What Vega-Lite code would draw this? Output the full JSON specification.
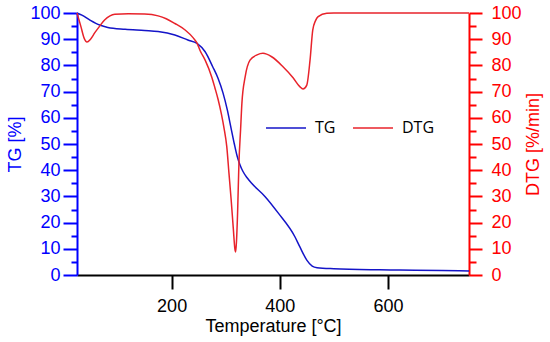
{
  "$schema": "https://vega.github.io/schema/vega-lite/v6.json",
  "width": 392,
  "height": 262,
  "autosize": "none",
  "padding": {"left": 77, "top": 13, "right": 81, "bottom": 67},
  "config": {"view": {"stroke": null}, "font": "Liberation Sans"},
  "datasets": {
    "tg": [
      {"T": 25, "v": 100}, {"T": 34, "v": 99.2}, {"T": 49, "v": 97.3}, {"T": 67, "v": 95.4},
      {"T": 82, "v": 94.5}, {"T": 114, "v": 93.8}, {"T": 150, "v": 93.3}, {"T": 175, "v": 92.9},
      {"T": 206, "v": 91.6}, {"T": 230, "v": 89.7}, {"T": 247, "v": 88.4}, {"T": 262, "v": 85.2},
      {"T": 276, "v": 79.5}, {"T": 286, "v": 75}, {"T": 295, "v": 69.5}, {"T": 303, "v": 63},
      {"T": 310, "v": 56}, {"T": 316, "v": 50}, {"T": 321, "v": 45.5}, {"T": 326, "v": 42.3},
      {"T": 332, "v": 39.5}, {"T": 340, "v": 37}, {"T": 348, "v": 35},
      {"T": 373, "v": 29.9}, {"T": 397, "v": 23.7}, {"T": 428, "v": 14.6}, {"T": 437, "v": 10.8},
      {"T": 450, "v": 5.7}, {"T": 460, "v": 3.4}, {"T": 469, "v": 2.8}, {"T": 500, "v": 2.4},
      {"T": 585, "v": 2.0}, {"T": 622, "v": 1.9}, {"T": 700, "v": 1.7}, {"T": 750, "v": 1.5}
    ],
    "dtg": [
      {"T": 25, "v": 100}, {"T": 32, "v": 95}, {"T": 38, "v": 90.5}, {"T": 43.5, "v": 88.9},
      {"T": 50, "v": 90}, {"T": 58, "v": 92.5}, {"T": 67, "v": 95}, {"T": 76, "v": 97.3},
      {"T": 86, "v": 98.9}, {"T": 95, "v": 99.5}, {"T": 120, "v": 99.7}, {"T": 150, "v": 99.6},
      {"T": 175, "v": 98.9}, {"T": 190, "v": 97.8}, {"T": 206, "v": 96}, {"T": 225, "v": 93.5},
      {"T": 240, "v": 90.5}, {"T": 247, "v": 88.5}, {"T": 253, "v": 85.5}, {"T": 262, "v": 82},
      {"T": 274, "v": 75.7}, {"T": 280, "v": 71.5}, {"T": 286, "v": 67}, {"T": 292, "v": 61.5},
      {"T": 297, "v": 56}, {"T": 302, "v": 49}, {"T": 306, "v": 39}, {"T": 310, "v": 29},
      {"T": 314, "v": 18}, {"T": 317, "v": 10}, {"T": 318.5, "v": 8.8},
      {"T": 320, "v": 13}, {"T": 322, "v": 23.7}, {"T": 324.5, "v": 42.7}, {"T": 327.5, "v": 55.3},
      {"T": 330, "v": 65.6}, {"T": 336, "v": 75.6}, {"T": 345, "v": 82}, {"T": 358, "v": 84},
      {"T": 369, "v": 84.6}, {"T": 385, "v": 83.3}, {"T": 406, "v": 79.5}, {"T": 425, "v": 75.2},
      {"T": 437, "v": 71.9}, {"T": 443, "v": 71}, {"T": 450, "v": 72.5}, {"T": 456, "v": 82},
      {"T": 461, "v": 93.5}, {"T": 466, "v": 97}, {"T": 471, "v": 98.6}, {"T": 487, "v": 99.9},
      {"T": 500, "v": 100}, {"T": 750, "v": 100}
    ]
  },
  "layer": [
    {
      "data": {"name": "tg"},
      "mark": {"type": "line", "interpolate": "monotone", "strokeWidth": 1.5},
      "encoding": {
        "x": {
          "field": "T", "type": "quantitative",
          "scale": {"domain": [25, 750], "nice": false, "zero": false},
          "axis": {
            "values": [200, 400, 600], "grid": false,
            "tickSize": 14, "tickColor": "black", "tickWidth": 2,
            "domainColor": "black", "domainWidth": 2,
            "labelFontSize": 18, "labelColor": "black", "labelPadding": 8,
            "title": "Temperature [°C]", "titleFontSize": 18, "titleFontWeight": "normal",
            "titleColor": "black", "titlePadding": 2
          }
        },
        "y": {
          "field": "v", "type": "quantitative",
          "scale": {"domain": [0, 100], "nice": false},
          "axis": {
            "orient": "left", "grid": false,
            "values": [0, 5, 10, 15, 20, 25, 30, 35, 40, 45, 50, 55, 60, 65, 70, 75, 80, 85, 90, 95, 100],
            "labelExpr": "datum.value % 10 === 0 ? datum.label : ''",
            "tickSize": {"condition": {"test": "datum.value % 10 === 0", "value": 14}, "value": 6},
            "tickColor": "#0000ff", "tickWidth": 2,
            "domainColor": "#0000ff", "domainWidth": 2,
            "labelColor": "#0000ff", "labelFontSize": 18, "labelPadding": 3,
            "title": "TG [%]", "titleColor": "#0000ff", "titleFontSize": 18,
            "titleFontWeight": "normal", "titlePadding": 5
          }
        },
        "color": {
          "datum": "TG",
          "scale": {"domain": ["TG", "DTG"], "range": ["#1414c8", "#e8232b"]},
          "legend": {
            "orient": "none", "legendX": 188, "legendY": 94, "direction": "horizontal",
            "title": null, "symbolType": "stroke", "symbolSize": 1600, "symbolStrokeWidth": 1.5,
            "labelFont": "Open Sans", "labelFontSize": 16, "labelOffset": 8,
            "columnPadding": 14, "labelColor": "black"
          }
        }
      }
    },
    {
      "data": {"name": "dtg"},
      "mark": {"type": "line", "interpolate": "monotone", "strokeWidth": 1.5},
      "encoding": {
        "x": {"field": "T", "type": "quantitative"},
        "y": {
          "field": "v", "type": "quantitative",
          "scale": {"domain": [0, 100], "nice": false},
          "axis": {
            "orient": "right", "grid": false,
            "values": [0, 5, 10, 15, 20, 25, 30, 35, 40, 45, 50, 55, 60, 65, 70, 75, 80, 85, 90, 95, 100],
            "labelExpr": "datum.value % 10 === 0 ? datum.label : ''",
            "tickSize": {"condition": {"test": "datum.value % 10 === 0", "value": 13}, "value": 7},
            "tickColor": "#ff0000", "tickWidth": 2,
            "domainColor": "#ff0000", "domainWidth": 2,
            "labelColor": "#ff0000", "labelFontSize": 18, "labelPadding": 9,
            "title": "DTG [%/min]", "titleColor": "#ff0000", "titleFontSize": 18,
            "titleFontWeight": "normal", "titlePadding": 3, "titleAngle": 270,
            "titleBaseline": "top"
          }
        },
        "color": {"datum": "DTG"}
      }
    }
  ],
  "resolve": {"scale": {"y": "independent"}}
}
